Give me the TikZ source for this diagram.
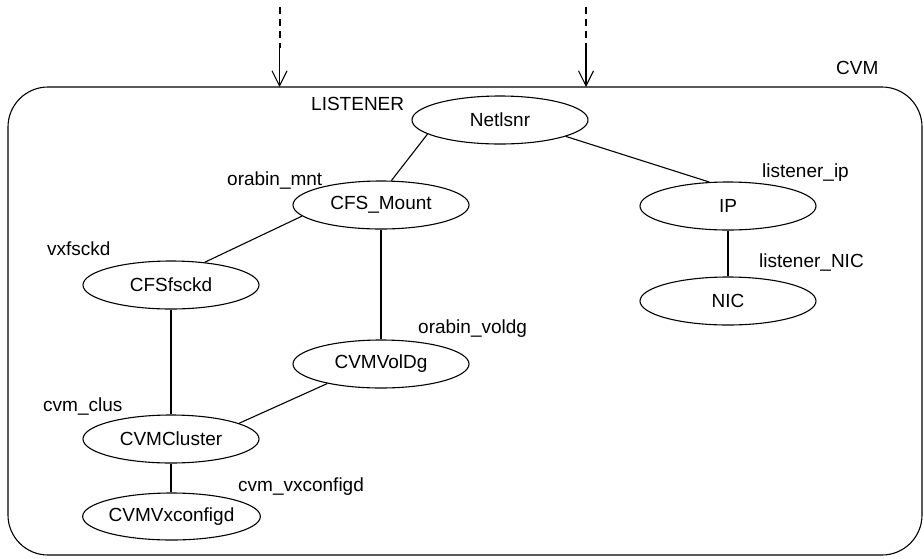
\documentclass[tikz,border=0pt]{standalone}
\usepackage{fontspec}
\setmainfont{Liberation Sans}
\usetikzlibrary{arrows.meta,shapes.geometric}
\begin{document}
\begin{tikzpicture}[x=1pt,y=-1pt,
  every node/.style={font=\fontsize{19}{22}\selectfont},
  res/.style={draw,ellipse,line width=1.1pt,minimum width=176pt,minimum height=48pt,inner sep=0pt},
  lbl/.style={anchor=base west,inner sep=0pt},
  link/.style={line width=1.1pt},
  vlink/.style={line width=1.6pt},
  feed/.style={line width=2pt,dash pattern=on 7pt off 5pt},
  feedtip/.style={line width=1.8pt,-{Straight Barb[length=15pt,width=15pt,line width=1.1pt]}}
]
\useasboundingbox (0,0) rectangle (924,558);

% service group boundary
\draw[line width=1.1pt,rounded corners=40pt] (8,87) rectangle (922,555);
\node[lbl] (cvm) at (836,74) {CVM};

% incoming dependencies from outside the group
\coordinate (srcA) at (279.5,7);
\coordinate (midA) at (279.5,48);
\coordinate (tipA) at (279.5,87);
\coordinate (srcB) at (586,7);
\coordinate (midB) at (586,48);
\coordinate (tipB) at (586,87);
\draw[feed] (srcA) -- (midA);
\draw[feedtip] (midA) -- (tipA);
\draw[feed] (srcB) -- (midB);
\draw[feedtip] (midB) -- (tipB);

% resources
\node[res] (netlsnr) at (500,120) {Netlsnr};
\node[res] (cfsmount) at (381,205) {CFS\_Mount};
\node[res] (ip) at (728,206) {IP};
\node[res] (nic) at (728,301) {NIC};
\node[res] (cfsfsckd) at (171,285) {CFSfsckd};
\node[res] (voldg) at (381,364) {CVMVolDg};
\node[res] (cluster) at (171,439) {CVMCluster};
\node[res,minimum width=170pt,minimum height=47pt] (vxconfigd) at (171.5,516.5) {CVMVxconfigd};

% resource names
\node[lbl] (lListener) at (311,110) {LISTENER};
\node[lbl] (lMnt) at (227,185) {orabin\_mnt};
\node[lbl] (lIp) at (762,177.5) {listener\_ip};
\node[lbl] (lNic) at (759,267) {listener\_NIC};
\node[lbl] (lFsck) at (47,255.5) {vxfsckd};
\node[lbl] (lVoldg) at (418,333) {orabin\_voldg};
\node[lbl] (lClus) at (43,411.5) {cvm\_clus};
\node[lbl] (lVxc) at (238,491) {cvm\_vxconfigd};

% dependency links
\draw[link] (netlsnr.191) -- (cfsmount.67);
\draw[link] (netlsnr.346) -- (ip.128);
\draw[link] (cfsmount.188) -- (cfsfsckd.34);
\draw[vlink] (cfsmount.south) -- (voldg.north);
\draw[vlink] (cfsfsckd.south) -- (cluster.north);
\draw[link] (voldg.200) -- (cluster.13);
\draw[vlink] (cluster.south) -- (vxconfigd.north -| cluster.south);
\draw[vlink] (ip.south) -- (nic.north);
\end{tikzpicture}
\end{document}
